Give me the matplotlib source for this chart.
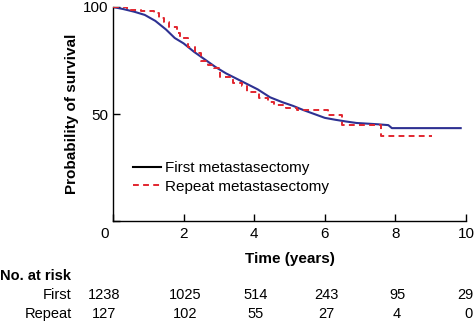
import matplotlib
matplotlib.use("Agg")
import matplotlib.pyplot as plt
from matplotlib.lines import Line2D

plt.rcParams['font.family'] = ['Liberation Sans', 'DejaVu Sans']

# Kaplan-Meier survival estimates (years, % surviving)
first_t = [0, 0.3, 0.6, 0.9, 1.2, 1.5, 1.75, 2.0, 2.3, 2.6, 2.9, 3.2, 3.5, 3.8,
           4.1, 4.45, 4.8, 5.1, 5.4, 5.7, 6.0, 6.3, 6.6, 6.9, 7.2, 7.5, 7.8,
           7.9, 9.85]
first_s = [100, 99, 97.8, 96.3, 93.5, 89.5, 85.5, 83, 79, 75.5, 72, 69, 66.5, 64,
           61.5, 57.8, 55.5, 53.8, 51.8, 50, 48.2, 47.3, 46.5, 45.8, 45.5, 45.2, 44.8,
           43.4, 43.4]

repeat_t = [0, 0.4, 0.8, 1.15, 1.3, 1.45, 1.6, 1.8, 1.9, 2.12, 2.33, 2.5, 2.7,
            2.85, 3.03, 3.4, 3.65, 3.8, 4.15, 4.4, 4.55, 4.9, 5.2, 6.1, 6.5, 7.6, 9.05]
repeat_s = [100, 98.8, 98.3, 97, 94.7, 93, 90.8, 87.8, 85.5, 81.5, 78.5, 75, 73,
            71.5, 67.4, 64.4, 63.3, 60.4, 57.6, 55.8, 54.2, 52.8, 52, 49.5, 45, 39.5, 39.5]

series_labels = ['First metastasectomy', 'Repeat metastasectomy']

# Number-at-risk table
risk_times = [0, 2, 4, 6, 8, 10]
risk_rows = ['First', 'Repeat']
risk_first = [1238, 1025, 514, 243, 95, 29]
risk_repeat = [127, 102, 55, 27, 4, 0]

x_ticks = [0, 2, 4, 6, 8, 10]
y_ticks = [0, 50, 100]

BLUE = '#2e3192'
RED = '#e2262f'

fig = plt.figure(figsize=(4.74, 3.23), dpi=100)
ax = fig.add_axes([113 / 474, 1 - 221 / 323, 353 / 474, 214 / 323])

# large cohort: many small steps, effectively a smooth curve
ax.plot(first_t, first_s, color=BLUE, lw=1.5, zorder=3)
ax.step(repeat_t, repeat_s, where='post', color=RED, lw=1.4,
        dashes=(3.0, 2.2), zorder=4)

ax.set_xlim(0, 10)
ax.set_ylim(0, 100)
for side in ('top', 'right'):
    ax.spines[side].set_visible(False)
for side in ('left', 'bottom'):
    ax.spines[side].set_linewidth(1.0)

ax.set_xticks(x_ticks)
ax.set_xticklabels([''] + [str(v) for v in x_ticks[1:]])
ax.set_yticks(y_ticks)
ax.set_yticklabels([''] + [str(v) for v in y_ticks[1:]])
ax.tick_params(direction='in', length=5, width=1.0, labelsize=11, pad=3)
ax.tick_params(axis='x', pad=4)
# shared origin label
ax.text(-0.25, -2.8, '0', ha='center', va='top', fontsize=11)

ax.set_ylabel('Probability of survival', fontsize=11, fontweight='bold',
              labelpad=3)
ax.set_xlabel('Time (years)', fontsize=11, fontweight='bold', labelpad=8)

handles = [Line2D([], [], color='black', lw=1.5),
           Line2D([], [], color=RED, lw=1.4, dashes=(3.0, 2.2))]
ax.legend(handles, series_labels, loc='upper left',
          bbox_to_anchor=(0.057, 0.28), frameon=False, fontsize=11,
          handlelength=1.8, handletextpad=0.3, labelspacing=0.3,
          borderpad=0, borderaxespad=0)

# risk table beneath the axis
fig.text(0 / 474, 1 - 276 / 323, 'No. at risk', fontsize=10.5,
         fontweight='bold', ha='left', va='center')
row_y = [1 - 295 / 323, 1 - 314 / 323]
for name, counts, yy in zip(risk_rows, [risk_first, risk_repeat], row_y):
    fig.text(72 / 474, yy, name, fontsize=10.5, ha='right', va='center')
    for t, n in zip(risk_times, counts):
        xpos = t + 0.05 if t > 0 else -0.25
        xf = fig.transFigure.inverted().transform(
            ax.transData.transform((xpos, 0)))[0]
        if t == risk_times[-1]:
            fig.text(0.998, yy, str(n), fontsize=10.5, ha='right', va='center')
        else:
            fig.text(xf, yy, str(n), fontsize=10.5, ha='center', va='center')

fig.savefig('out.png', dpi=100)
